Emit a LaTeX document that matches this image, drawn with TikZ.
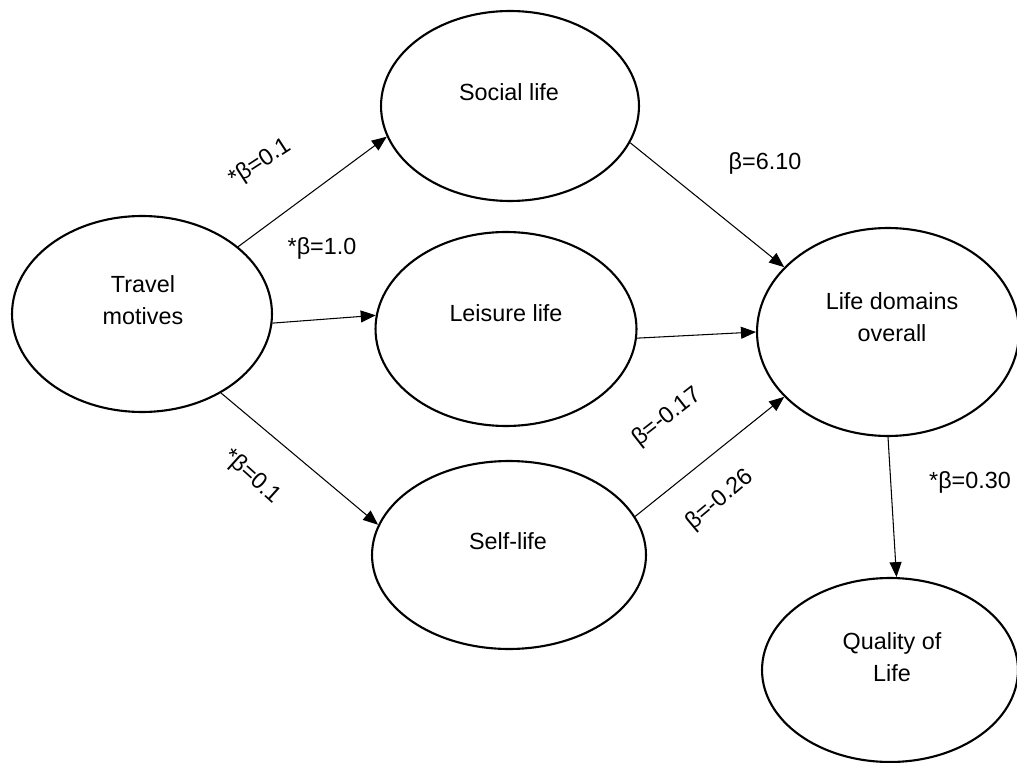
\documentclass[tikz,border=0pt]{standalone}
\usepackage{fontspec}
\setmainfont{Liberation Sans}
\usetikzlibrary{shapes.geometric,arrows.meta}
\begin{document}
\begin{tikzpicture}[x=0.02cm, y=-0.02cm,
        construct/.style={draw, ellipse, line width=1.2pt, inner sep=0pt},
        effect/.style={-{Triangle[length=0.3cm, width=0.24cm]}, line width=0.6pt},
        cname/.style={align=center, font=\fontsize{13.3}{18}\selectfont},
        coef/.style={font=\fontsize{13.3}{16}\selectfont}]
        \useasboundingbox (0, 0) rectangle (1017, 763);
        % constructs
        \node [construct, minimum width=5.2cm, minimum height=3.92cm] (travel) at (142, 314) {};
        \node [construct, minimum width=5.16cm, minimum height=3.8cm] (social) at (510, 106) {};
        \node [construct, minimum width=5.22cm, minimum height=3.88cm] (leisure) at (506, 329) {};
        \node [construct, minimum width=5.48cm, minimum height=3.76cm] (self) at (509, 555) {};
        \node [construct, minimum width=5.24cm, minimum height=4.16cm] (domains) at (888, 332) {};
        \node [construct, minimum width=5.12cm, minimum height=3.68cm] (qol) at (890, 670) {};
        \node [cname] (travel-txt) at (143, 300) {Travel\\motives};
        \node [cname] (social-txt) at (509, 92) {Social life};
        \node [cname] (leisure-txt) at (506, 313) {Leisure life};
        \node [cname] (self-txt) at (508, 541) {Self-life};
        \node [cname] (domains-txt) at (892, 317) {Life domains\\overall};
        \node [cname] (qol-txt) at (892, 657) {Quality of\\Life};
        % paths
        \draw [effect] (travel.35) -- (social.194);
        \draw [effect] (travel.-4) -- (leisure.174);
        \draw [effect] (travel.-45) -- (self.167);
        \draw [effect] (social.-17) -- (domains.148);
        \draw [effect] (leisure.-4) -- (domains.180);
        \draw [effect] (self.17) -- (domains.212);
        \draw [effect] (domains.-90) -- (qol.86);
        % coefficients
        \node [coef, rotate=33] (b1) at (260, 163) {*β=0.1};
        \node [coef] (b2) at (322, 248) {*β=1.0};
        \node [coef, rotate=-42] (b3) at (252, 477) {*β=0.1};
        \node [coef] (b4) at (765, 163) {β=6.10};
        \node [coef, rotate=38] (b5) at (667, 417) {β=-0.17};
        \node [coef, rotate=40] (b6) at (720, 500) {β=-0.26};
        \node [coef] (b7) at (970, 482) {*β=0.30};
    \end{tikzpicture}
\end{document}
